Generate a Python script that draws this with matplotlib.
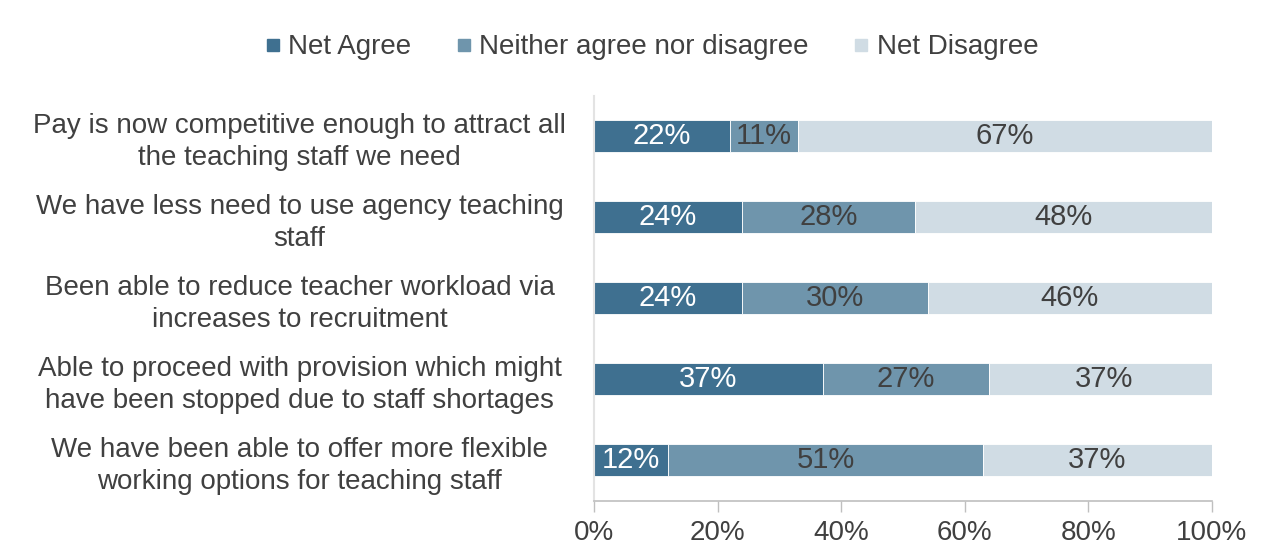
import numpy as np
import matplotlib
matplotlib.use('Agg')
import matplotlib.pyplot as plt
from matplotlib.lines import Line2D

plt.rcParams['font.family'] = ['Liberation Sans', 'DejaVu Sans']
FONT = 20
TEXT = '#404040'

# Data
statements = [
    'Pay is now competitive enough to attract all\nthe teaching staff we need',
    'We have less need to use agency teaching\nstaff',
    'Been able to reduce teacher workload via\nincreases to recruitment',
    'Able to proceed with provision which might\nhave been stopped due to staff shortages',
    'We have been able to offer more flexible\nworking options for teaching staff',
]
net_agree    = [22, 24, 24, 37, 12]
neither      = [11, 28, 30, 27, 51]
net_disagree = [67, 48, 46, 37, 37]

series = [
    ('Net Agree', net_agree, '#3f7090', 'white'),
    ('Neither agree nor disagree', neither, '#6f95ac', TEXT),
    ('Net Disagree', net_disagree, '#d0dce4', TEXT),
]

fig = plt.figure(figsize=(12.61, 5.56), dpi=100)
ax = fig.add_axes([0.471, 0.0998, 0.490, 0.7284])

y = np.arange(len(statements))
left = np.zeros(len(statements))
for name, vals, col, tcol in series:
    vals = np.array(vals, dtype=float)
    ax.barh(y, vals, left=left, height=0.4, color=col, label=name,
            edgecolor='white', linewidth=0.6)
    for yi, (l, v) in enumerate(zip(left, vals)):
        ax.text(l + v / 2, yi, f'{int(v)}%', ha='center', va='center',
                color=tcol, fontsize=FONT + 1)
    left += vals

ax.set_xlim(0, 100)
ax.set_ylim(len(statements) - 0.5, -0.5)
ax.set_yticks(y)
ax.set_yticklabels(statements, fontsize=FONT, color=TEXT, ha='center',
                   linespacing=1.3)
ax.tick_params(axis='y', length=0, pad=212)
ax.set_xticks(np.arange(0, 101, 20))
ax.set_xticklabels([f'{t}%' for t in range(0, 101, 20)], fontsize=FONT, color=TEXT)
ax.tick_params(axis='x', length=8, width=1, color='#bfbfbf', pad=6)

for s in ['top', 'right']:
    ax.spines[s].set_visible(False)
ax.spines['left'].set_color('#e3e3e3')
ax.spines['left'].set_linewidth(1.5)
ax.spines['bottom'].set_color('#bfbfbf')
ax.spines['bottom'].set_linewidth(1.2)

handles = [Line2D([], [], marker='s', linestyle='none', markersize=9,
                  markerfacecolor=c, markeredgecolor=c, label=n)
           for n, _, c, _ in series]
leg = fig.legend(handles=handles, loc='center', bbox_to_anchor=(0.516, 0.915),
                 ncol=3, frameon=False, fontsize=FONT, handlelength=0.7,
                 handletextpad=0.2, columnspacing=1.55)
for t in leg.get_texts():
    t.set_color(TEXT)

fig.savefig('out.png', dpi=100)
